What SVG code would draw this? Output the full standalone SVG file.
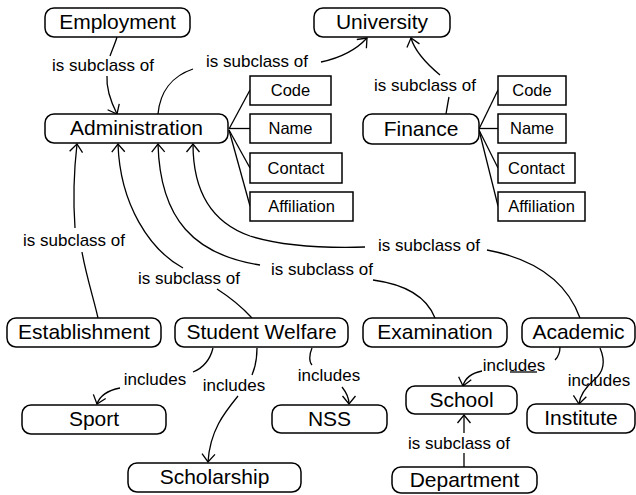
<svg xmlns="http://www.w3.org/2000/svg" width="636" height="495" viewBox="0 0 636 495">
<style>
  text { font-family: "Liberation Sans", Arial, sans-serif; fill: #000; text-anchor: middle; }
  .node rect { fill: #fff; stroke: #000; stroke-width: 1.5; }
  .node text { font-size: 21px; }
  .attr rect { fill: #fff; stroke: #000; stroke-width: 1.5; }
  .attr text { font-size: 16.5px; }
  .lbl { font-size: 17px; }
  #connectors path { fill: none; stroke: #000; stroke-width: 1.3; }
</style>
<defs>
  <marker id="arr" viewBox="-10 -8 12 16" refX="0" refY="0" markerWidth="12" markerHeight="16" orient="auto" markerUnits="userSpaceOnUse">
    <path d="M-8,-6.5 L0,0 L-8,6.5" fill="none" stroke="#000" stroke-width="1.3"/>
  </marker>
</defs>
<rect width="636" height="495" fill="#fff"/>

<g id="connectors">
  <!-- Employment -> Administration -->
  <path d="M117,37 C115,44 112,50 110,56"/>
  <path d="M107,76 C106,90 111,102 117,114" marker-end="url(#arr)"/>
  <!-- Administration -> University -->
  <path d="M158,114 C160,92 172,76 193,69"/>
  <path d="M321,62 C340,58 356,50 367,38" marker-end="url(#arr)"/>
  <!-- Finance -> University -->
  <path d="M446,114 C447,108 448,102 449,97"/>
  <path d="M440,75 C428,65 415,52 411,38" marker-end="url(#arr)"/>
  <!-- Administration attributes -->
  <path d="M229,129 L250,90"/>
  <path d="M229,128.5 L250,128.5"/>
  <path d="M229,130 L250,168"/>
  <path d="M229,130 L250,206"/>
  <!-- Finance attributes -->
  <path d="M479,129 L498,90"/>
  <path d="M479,128.5 L498,128.5"/>
  <path d="M479,130 L498,168"/>
  <path d="M479,130 L498,206"/>
  <!-- Establishment -> Administration -->
  <path d="M98,318 C94,300 86,275 82,252"/>
  <path d="M75,228 C73,200 74,170 77,144" marker-end="url(#arr)"/>
  <!-- Student Welfare -> Administration -->
  <path d="M252,318 C240,305 228,296 217,289"/>
  <path d="M183,268 C150,250 120,205 118,144" marker-end="url(#arr)"/>
  <!-- Examination -> Administration -->
  <path d="M435,318 C428,300 410,285 373,280"/>
  <path d="M260,265 C195,255 160,220 158,144" marker-end="url(#arr)"/>
  <!-- Academic -> Administration -->
  <path d="M580,318 C568,285 540,260 487,250"/>
  <path d="M365,247 C330,248 285,247 250,236 C210,222 193,190 193,144" marker-end="url(#arr)"/>
  <!-- Student Welfare -> Sport -->
  <path d="M213,348 C210,360 203,368 193,372"/>
  <path d="M120,388 C110,390 100,395 97,404" marker-end="url(#arr)"/>
  <!-- Student Welfare -> Scholarship -->
  <path d="M257,348 C257,360 255,368 252,375"/>
  <path d="M238,396 C225,412 210,430 208,462" marker-end="url(#arr)"/>
  <!-- Student Welfare -> NSS -->
  <path d="M312,348 C309,355 309,362 312,365"/>
  <path d="M342,387 C346,392 349,397 349,404" marker-end="url(#arr)"/>
  <!-- Academic -> School -->
  <path d="M560,347 C560,353 558,357 555,360"/>
  <path d="M510,372 L537,372"/>
  <path d="M482,371 C472,373 465,378 463,386" marker-end="url(#arr)"/>
  <!-- Academic -> Institute -->
  <path d="M600,348 C606,362 604,372 594,380 C586,387 580,395 579,404" marker-end="url(#arr)"/>
  <!-- Department -> School -->
  <path d="M464,467 L464,453"/>
  <path d="M464,433 L464,415" marker-end="url(#arr)"/>

  <text class="lbl" x="103" y="71">is subclass of</text>
  <text class="lbl" x="257" y="67">is subclass of</text>
  <text class="lbl" x="425" y="91">is subclass of</text>
  <text class="lbl" x="74" y="246">is subclass of</text>
  <text class="lbl" x="189" y="284">is subclass of</text>
  <text class="lbl" x="322" y="275">is subclass of</text>
  <text class="lbl" x="429" y="251">is subclass of</text>
  <text class="lbl" x="155" y="385">includes</text>
  <text class="lbl" x="234" y="391">includes</text>
  <text class="lbl" x="329" y="381">includes</text>
  <text class="lbl" x="514" y="371">includes</text>
  <text class="lbl" x="599" y="386">includes</text>
  <text class="lbl" x="459" y="449">is subclass of</text>
</g>

<g id="employment" class="node"><rect x="45" y="8" width="145" height="29" rx="9"/><text x="117.5" y="29">Employment</text></g>
<g id="university" class="node"><rect x="314" y="8" width="136" height="29" rx="9"/><text x="382" y="29">University</text></g>
<g id="administration" class="node"><rect x="45" y="114" width="183" height="29" rx="9"/><text x="136.5" y="135">Administration</text></g>
<g id="finance" class="node"><rect x="363" y="114" width="116" height="30" rx="9"/><text x="421" y="135.5">Finance</text></g>

<g id="admin-code" class="attr"><rect x="250" y="76" width="81" height="29"/><text x="290.5" y="96">Code</text></g>
<g id="admin-name" class="attr"><rect x="250" y="114" width="81" height="29"/><text x="290.5" y="134">Name</text></g>
<g id="admin-contact" class="attr"><rect x="250" y="153" width="92" height="30"/><text x="296" y="173.5">Contact</text></g>
<g id="admin-affiliation" class="attr"><rect x="250" y="192" width="103" height="29"/><text x="301.5" y="212">Affiliation</text></g>

<g id="finance-code" class="attr"><rect x="498" y="76" width="68" height="29"/><text x="532" y="96">Code</text></g>
<g id="finance-name" class="attr"><rect x="498" y="114" width="68" height="29"/><text x="532" y="134">Name</text></g>
<g id="finance-contact" class="attr"><rect x="498" y="153" width="77" height="30"/><text x="536.5" y="173.5">Contact</text></g>
<g id="finance-affiliation" class="attr"><rect x="498" y="192" width="87" height="29"/><text x="541.5" y="212">Affiliation</text></g>

<g id="establishment" class="node"><rect x="7" y="318" width="154" height="29" rx="9"/><text x="84" y="339">Establishment</text></g>
<g id="student-welfare" class="node"><rect x="175" y="318" width="173" height="29" rx="9"/><text x="261.5" y="339">Student Welfare</text></g>
<g id="examination" class="node"><rect x="363" y="318" width="144" height="29" rx="9"/><text x="435" y="339">Examination</text></g>
<g id="academic" class="node"><rect x="522" y="318" width="113" height="29" rx="9"/><text x="578.5" y="339">Academic</text></g>
<g id="sport" class="node"><rect x="22" y="405" width="144" height="29" rx="9"/><text x="94" y="426">Sport</text></g>
<g id="nss" class="node"><rect x="272" y="405" width="115" height="28" rx="9"/><text x="329.5" y="425.5">NSS</text></g>
<g id="school" class="node"><rect x="406" y="386" width="111" height="28" rx="9"/><text x="461.5" y="406.5">School</text></g>
<g id="institute" class="node"><rect x="527" y="404" width="108" height="29" rx="9"/><text x="581" y="425">Institute</text></g>
<g id="scholarship" class="node"><rect x="128" y="463" width="173" height="29" rx="9"/><text x="214.5" y="484">Scholarship</text></g>
<g id="department" class="node"><rect x="392" y="467" width="145" height="26" rx="9"/><text x="464.5" y="487">Department</text></g>
</svg>
